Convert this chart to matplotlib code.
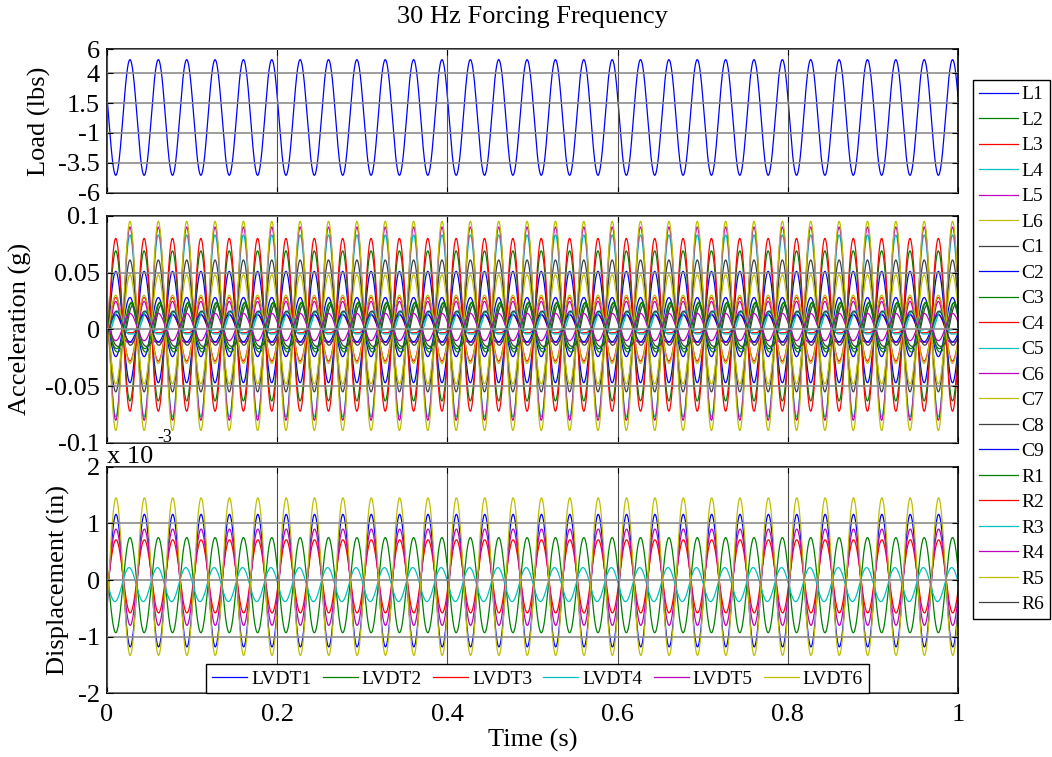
import numpy as np
import matplotlib
matplotlib.use('Agg')
import matplotlib.pyplot as plt

plt.rcParams['font.family'] = ['Liberation Serif', 'DejaVu Serif']
plt.rcParams['axes.unicode_minus'] = False

# time base and forcing
time_s = np.linspace(0, 1, 4001)
force_hz = 30.0

# load cell (lbs)
load_amp = 4.84
load_off = 0.3
load_peak = 0.027          # time of first peak (s)

# accelerometers (g)
acc_names = ['L1', 'L2', 'L3', 'L4', 'L5', 'L6',
             'C1', 'C2', 'C3', 'C4', 'C5', 'C6', 'C7', 'C8', 'C9',
             'R1', 'R2', 'R3', 'R4', 'R5', 'R6']
acc_amp = [0.049, 0.066, 0.076, 0.080, 0.085, 0.092,
           0.058, 0.026, 0.022, 0.008, 0.008, 0.018, 0.048, 0.018, 0.012,
           0.020, 0.028, 0.010, 0.012, 0.030, 0.015]
acc_off = [0.002, 0.003, 0.004, 0.003, 0.005, 0.003,
           0.003, 0.002, -0.001, 0.003, 0.005, 0.002, 0.000, 0.000, 0.001,
           0.001, 0.000, 0.003, 0.002, 0.000, 0.001]
acc_peak = [0.0103, 0.0103, 0.0103, 0.027, 0.027, 0.027,
            0.027, 0.027, 0.029, 0.0103, 0.012, 0.0103, 0.027, 0.030, 0.0103,
            0.028, 0.0103, 0.013, 0.027, 0.0103, 0.0110]
acc_harm = [0.0, 0.0, 0.0, 0.0, 0.0, 0.0,
            0.0, 0.0, 0.003, 0.002, 0.003, 0.0046, 0.0, 0.003, 0.0,
            0.002, 0.0, 0.003, 0.0, 0.0, 0.0]

# LVDTs (x 1e-3 in)
disp_names = ['LVDT1', 'LVDT2', 'LVDT3', 'LVDT4', 'LVDT5', 'LVDT6']
disp_amp = [1.17, 0.84, 0.645, 0.30, 0.85, 1.39]
disp_off = [-0.01, -0.09, 0.065, -0.08, 0.05, 0.06]
disp_peak = [0.0106, 0.027, 0.0106, 0.026, 0.0106, 0.0106]

# old matlab colour order
mcols = [(0, 0, 1), (0, 0.5, 0), (1, 0, 0), (0, 0.75, 0.75),
         (0.75, 0, 0.75), (0.75, 0.75, 0), (0.25, 0.25, 0.25)]


def wave(amp, off, peak, harm=0.0):
    th = 2 * np.pi * force_hz * (time_s - peak)
    return off + amp * np.cos(th) + harm * np.cos(2 * th)


def style(ax, yticks, ylabels, ylim, xlab=False):
    ax.set_xlim(0, 1)
    ax.set_ylim(*ylim)
    ax.set_xticks([0, 0.2, 0.4, 0.6, 0.8, 1])
    if xlab:
        ax.set_xticklabels(['0', '0.2', '0.4', '0.6', '0.8', '1'])
    else:
        ax.set_xticklabels([])
    ax.set_yticks(yticks)
    ax.set_yticklabels(ylabels)
    ax.tick_params(direction='in', top=True, right=True, length=4,
                   width=0.8, labelsize=19, pad=5)
    ax.tick_params(axis='x', pad=8)
    ax.yaxis.grid(True, color='#8c8c8c', lw=1.2)
    ax.xaxis.grid(True, color='#505050', lw=0.8)
    ax.set_axisbelow(False)
    for s in ax.spines.values():
        s.set_linewidth(1.2)


fig = plt.figure(figsize=(10.52, 7.57), dpi=100)
ax1 = fig.add_axes([0.1017, 0.7454, 0.8089, 0.1894])
ax2 = fig.add_axes([0.1017, 0.4148, 0.8089, 0.3003])
ax3 = fig.add_axes([0.1017, 0.0841, 0.8089, 0.2993])

ax1.plot(time_s, wave(load_amp, load_off, load_peak), color=mcols[0], lw=0.9)
style(ax1, [-6, -3.5, -1, 1.5, 4, 6], ['-6', '-3.5', '-1', '1.5', '4', '6'], (-6, 6))
ax1.set_ylabel('Load (lbs)', fontsize=19)
ax1.yaxis.set_label_coords(-0.066, 0.5)
ax1.set_title('30 Hz Forcing Frequency', fontsize=19, pad=19)

acc_lines = []
for i, name in enumerate(acc_names):
    y = wave(acc_amp[i], acc_off[i], acc_peak[i], acc_harm[i])
    ln, = ax2.plot(time_s, y, color=mcols[i % 7], lw=0.9, label=name)
    acc_lines.append(ln)
style(ax2, [-0.1, -0.05, 0, 0.05, 0.1], ['-0.1', '-0.05', '0', '0.05', '0.1'], (-0.1, 0.1))
ax2.set_ylabel('Acceleration (g)', fontsize=19)
ax2.yaxis.set_label_coords(-0.088, 0.5)

for i, name in enumerate(disp_names):
    y = wave(disp_amp[i], disp_off[i], disp_peak[i])
    ax3.plot(time_s, y, color=mcols[i % 7], lw=0.9, label=name)
style(ax3, [-2, -1, 0, 1, 2], ['-2', '-1', '0', '1', '2'], (-2, 2), xlab=True)
ax3.set_ylabel('Displacement (in)', fontsize=19)
ax3.yaxis.set_label_coords(-0.043, 0.5)
ax3.set_xlabel('Time (s)', fontsize=19, labelpad=2)

# exponent label like matlab
fig.text(107 / 1052, 1 - 463 / 757, 'x 10', fontsize=19, va='baseline')
fig.text(157 / 1052, 1 - 442 / 757, '-3', fontsize=13, va='baseline')

leg = ax3.legend(ncol=6, loc='lower center', bbox_to_anchor=(0.506, 0),
                 borderaxespad=0, fontsize=14, handlelength=1.8,
                 handletextpad=0.2, columnspacing=0.58, borderpad=0.3,
                 fancybox=False, framealpha=1, edgecolor='black')
leg.get_frame().set_linewidth(1.0)

leg2 = fig.legend(handles=acc_lines, loc='upper left',
                  bbox_to_anchor=(973 / 1052, 1 - 80 / 757),
                  bbox_transform=fig.transFigure, borderaxespad=0,
                  fontsize=14, handlelength=2.0, handletextpad=0.2,
                  labelspacing=0.405, borderpad=0.3, fancybox=False,
                  framealpha=1, edgecolor='black')
leg2.get_frame().set_linewidth(1.0)

fig.savefig('out.png', dpi=100)
